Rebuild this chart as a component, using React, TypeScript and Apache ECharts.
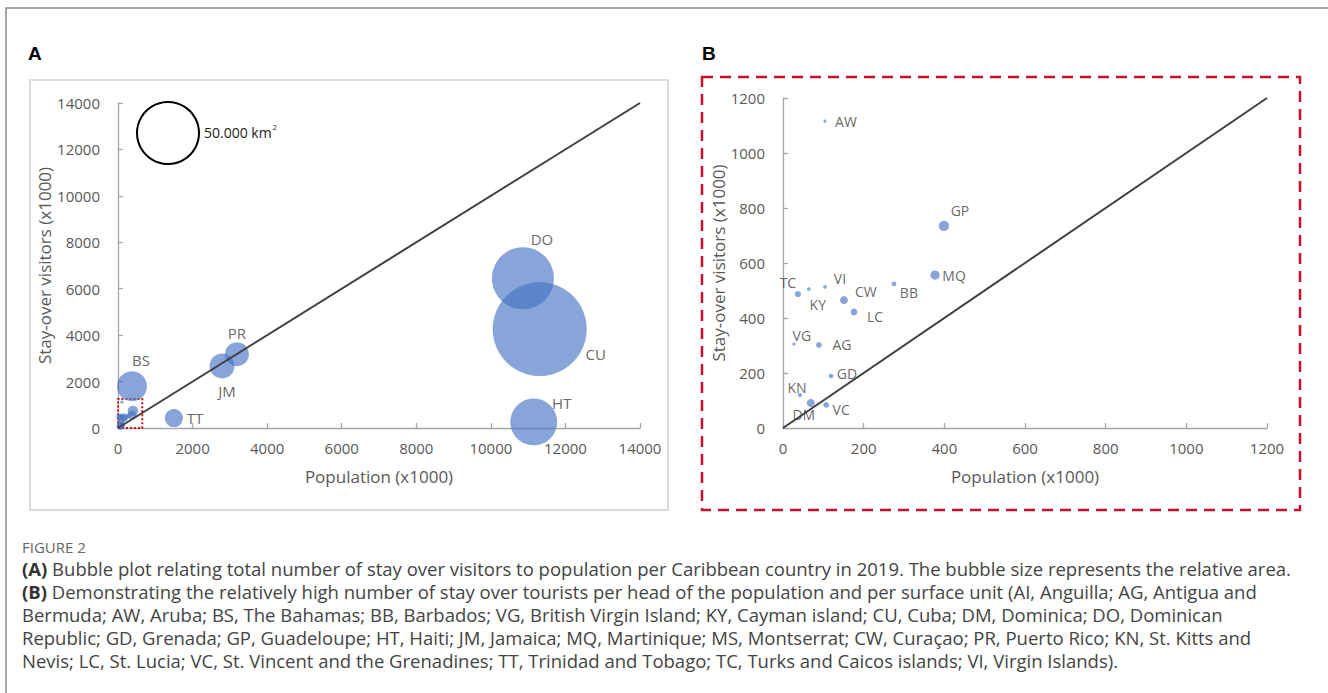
import React, { useEffect, useRef } from "react";
import * as echarts from "echarts";

// country codes, population (x1000), stay-over visitors (x1000), relative area (bubble size, km²)
const countries = ["CU", "DO", "HT", "JM", "PR", "BS", "TT", "GP", "MQ", "BB", "CW", "LC", "AW", "VI", "KY", "TC", "VG", "AG", "GD", "KN", "DM", "VC"];
const population = [11310, 10860, 11150, 2790, 3190, 375, 1500, 399, 377, 275, 151, 176, 104, 104, 64, 37, 27, 89, 119, 42, 69, 107];
const visitors = [4260, 6450, 260, 2670, 3180, 1800, 430, 735, 556, 524, 465, 422, 1116, 513, 505, 487, 305, 302, 189, 120, 91, 84];
const area = [115000, 50000, 28500, 8100, 7500, 11700, 4300, 1400, 1100, 300, 830, 600, 130, 180, 180, 500, 130, 420, 280, 230, 830, 420];

const labelledA = ["DO", "CU", "HT", "PR", "JM", "BS", "TT"];

const ticksA = { max: 14000, interval: 2000 };
const ticksB = { max: 1200, interval: 200 };

const legendArea = 50000;
const legendLabel = "50.000 km";

// label placement (layout only)
const offsetA: Record<string, number[]> = {
  DO: [19, -39], CU: [56, 25], HT: [28, -19], PR: [0, -21], JM: [5, 25], BS: [9, -26], TT: [21, 0],
};
const offsetB: Record<string, number[]> = {
  AW: [21, 0], GP: [16, -15], MQ: [19, 0], TC: [-10, -12], KY: [9, 15], VI: [15, -8], CW: [22, -9],
  BB: [15, 9], LC: [21, 5], VG: [8, -9], AG: [23, 0], GD: [16, -3], KN: [-3, -8], DM: [-7, 12], VC: [15, 5],
};

const captionTitle = "FIGURE 2";
const captionLines = [
  "{b|(A)} Bubble plot relating total number of stay over visitors to population per Caribbean country in 2019. The bubble size represents the relative area.",
  "{b|(B)} Demonstrating the relatively high number of stay over tourists per head of the population and per surface unit (AI, Anguilla; AG, Antigua and",
  "Bermuda; AW, Aruba; BS, The Bahamas; BB, Barbados; VG, British Virgin Island; KY, Cayman island; CU, Cuba; DM, Dominica; DO, Dominican",
  "Republic; GD, Grenada; GP, Guadeloupe; HT, Haiti; JM, Jamaica; MQ, Martinique; MS, Montserrat; CW, Curaçao; PR, Puerto Rico; KN, St. Kitts and",
  "Nevis; LC, St. Lucia; VC, St. Vincent and the Grenadines; TT, Trinidad and Tobago; TC, Turks and Caicos islands; VI, Virgin Islands).",
];

const LEGEND_D = 62;
const sizeOf = (a: number) => LEGEND_D * Math.sqrt(a / legendArea);
const BUBBLE = "rgba(68,114,196,0.8)";
const AXIS_COLOR = "#a6a6a6";
const TEXT = "#595959";
const FONT = "Open Sans";
const CAP_SIZE = 18.5;

function axis(gridIndex: number, t: { max: number; interval: number }, name: string, isY: boolean) {
  return {
    gridIndex,
    type: "value",
    min: 0,
    max: t.max,
    interval: t.interval,
    name,
    nameLocation: "middle",
    nameGap: isY ? (gridIndex === 0 ? 60 : 54) : 40,
    nameTextStyle: { color: TEXT, fontSize: 17, fontFamily: FONT },
    axisLine: { show: true, onZero: false, lineStyle: { color: AXIS_COLOR, width: 1.3 } },
    axisTick: { show: true, inside: true, length: 5, lineStyle: { color: AXIS_COLOR, width: 1.3 } },
    splitLine: { show: false },
    axisLabel: { color: TEXT, fontSize: 15, fontFamily: FONT, margin: isY ? 18 : 12, formatter: (v: number) => String(v) },
  };
}

export default function App() {
  const ref = useRef<HTMLDivElement>(null);
  useEffect(() => {
    if (!ref.current) return;
    const chart = echarts.init(ref.current, null, { renderer: "svg" });

    const dataA = countries.map((c, i) => ({
      name: c,
      value: [population[i], visitors[i], area[i]],
      label: labelledA.includes(c)
        ? { show: true, formatter: c, position: "inside", offset: offsetA[c], color: "#404040", fontSize: 15, fontFamily: FONT }
        : { show: false },
    }));
    const dataB = countries
      .map((c, i) => ({ c, i }))
      .filter(({ i }) => population[i] <= ticksB.max && visitors[i] <= ticksB.max)
      .map(({ c, i }) => ({
        name: c,
        value: [population[i], visitors[i], area[i]],
        label: { show: true, formatter: c, position: "inside", offset: offsetB[c] || [12, 0], color: "#404040", fontSize: 14, fontFamily: FONT },
      }));

    const captionGraphics: any[] = [
      { type: "text", left: 22, top: 539, style: { text: captionTitle, fill: "#666", font: `15px ${FONT}` } },
      ...captionLines.map((t, k) => ({
        type: "text",
        left: 22,
        top: 559 + k * 23,
        style: {
          text: t,
          fill: "#444",
          font: `${CAP_SIZE}px ${FONT}`,
          rich: { b: { fontWeight: "bold", fontSize: CAP_SIZE, fontFamily: FONT, fill: "#333" } },
        },
      })),
    ];

    const option: any = {
      animation: false,
      textStyle: { fontFamily: FONT },
      grid: [
        { left: 118, top: 103, width: 522, height: 325 },
        { left: 783, top: 98, width: 484, height: 330 },
      ],
      xAxis: [axis(0, ticksA, "Population (x1000)", false), axis(1, ticksB, "Population (x1000)", false)],
      yAxis: [axis(0, ticksA, "Stay-over visitors (x1000)", true), axis(1, ticksB, "Stay-over visitors (x1000)", true)],
      series: [
        {
          type: "scatter",
          xAxisIndex: 0,
          yAxisIndex: 0,
          data: dataA,
          symbolSize: (v: number[]) => sizeOf(v[2]),
          itemStyle: { color: BUBBLE },
          emphasis: { disabled: true },
          markArea: {
            silent: true,
            itemStyle: { color: "rgba(0,0,0,0)", borderColor: "#d01010", borderWidth: 2, borderType: "dotted" },
            data: [[{ coord: [0, 0] }, { coord: [650, 1250] }]],
          },
        },
        {
          type: "line",
          xAxisIndex: 0,
          yAxisIndex: 0,
          data: [[0, 0], [ticksA.max, ticksA.max]],
          symbol: "none",
          lineStyle: { color: "#404040", width: 2 },
          z: 5,
          silent: true,
        },
        {
          type: "scatter",
          xAxisIndex: 1,
          yAxisIndex: 1,
          data: dataB,
          symbolSize: (v: number[]) => sizeOf(v[2]),
          itemStyle: { color: BUBBLE },
          emphasis: { disabled: true },
        },
        {
          type: "line",
          xAxisIndex: 1,
          yAxisIndex: 1,
          data: [[0, 0], [ticksB.max, ticksB.max]],
          symbol: "none",
          lineStyle: { color: "#404040", width: 2 },
          z: 5,
          silent: true,
        },
      ],
      graphic: [
        { type: "rect", shape: { x: 6, y: 8, width: 1340, height: 700 }, style: { fill: "none", stroke: "#8c8c8c", lineWidth: 1.5 }, silent: true, z: -10 },
        { type: "rect", shape: { x: 30, y: 80, width: 638, height: 430 }, style: { fill: "none", stroke: "#dcdcdc", lineWidth: 2 }, silent: true, z: -10 },
        { type: "rect", shape: { x: 702, y: 77, width: 598, height: 433 }, style: { fill: "none", stroke: "#c8102e", lineWidth: 2.5, lineDash: [11, 7] }, silent: true, z: -10 },
        { type: "text", left: 28, top: 44, style: { text: "A", fill: "#000", font: "bold 19px Liberation Sans" } },
        { type: "text", left: 702, top: 44, style: { text: "B", fill: "#000", font: "bold 19px Liberation Sans" } },
        { type: "circle", shape: { cx: 168, cy: 133, r: LEGEND_D / 2 }, style: { fill: "none", stroke: "#000", lineWidth: 2 }, silent: true },
        {
          type: "text",
          left: 204,
          top: 124,
          style: {
            text: `{a|${legendLabel}}{s|2}`,
            rich: {
              a: { fontSize: 14, fontFamily: FONT, fill: "#222" },
              s: { fontSize: 7, fontFamily: FONT, fill: "#222", padding: [0, 0, 10, 1] },
            },
          },
        },
        ...captionGraphics,
      ],
    };
    chart.setOption(option);
    return () => chart.dispose();
  }, []);
  return <div ref={ref} style={{ position: "absolute", left: 0, top: 0, width: 1328, height: 693, background: "#fff" }} />;
}
